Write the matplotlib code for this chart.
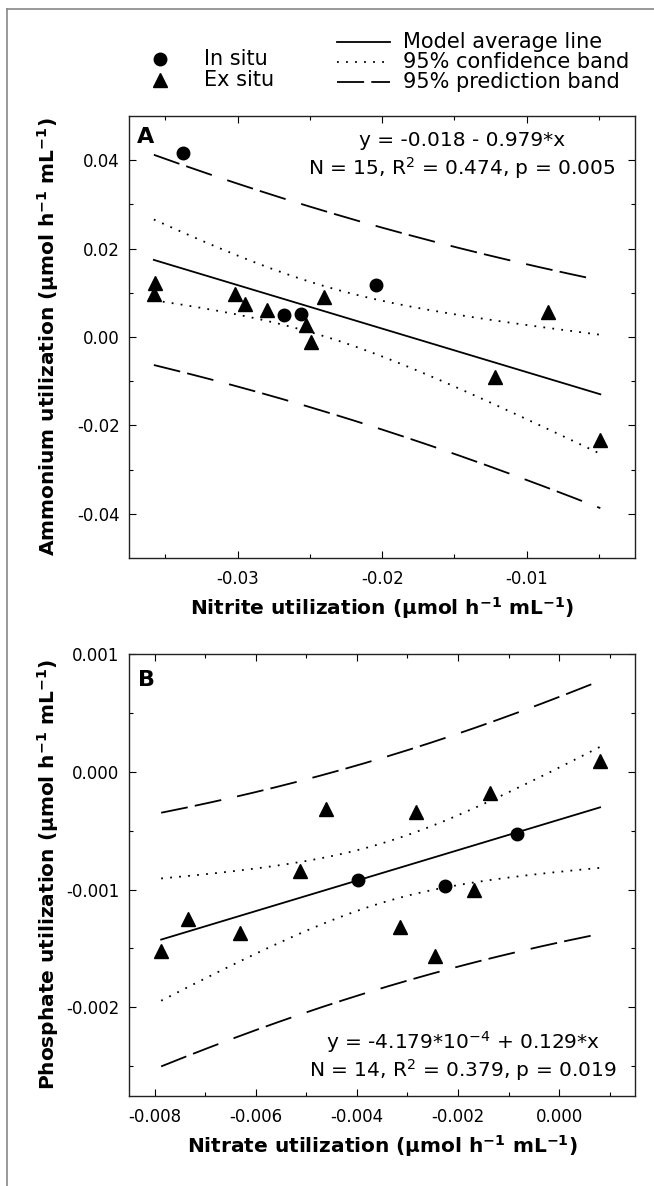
import matplotlib
matplotlib.use("Agg")
import matplotlib.pyplot as plt
import numpy as np
from matplotlib.lines import Line2D

plt.rcParams['font.family'] = ['DejaVu Sans']
plt.rcParams['mathtext.default'] = 'regular'
plt.rcParams['axes.unicode_minus'] = False

# panel A: nitrite vs ammonium utilization
nitrite_insitu = [-0.0338, -0.0204, -0.0268, -0.0256]
ammonium_insitu = [0.0416, 0.0117, 0.0049, 0.0053]
nitrite_exsitu = [-0.0357, -0.0358, -0.0302, -0.0295, -0.0280, -0.0240,
                  -0.0253, -0.0249, -0.0085, -0.0122, -0.0049]
ammonium_exsitu = [0.0123, 0.0098, 0.0098, 0.0074, 0.0061, 0.0091,
                   0.0028, -0.0011, 0.0057, -0.0091, -0.0233]

# panel B: nitrate vs phosphate utilization
nitrate_insitu = [-0.00398, -0.00083, -0.00225]
phosphate_insitu = [-0.000915, -0.000531, -0.000969]
nitrate_exsitu = [0.00081, -0.00137, -0.00461, -0.00284, -0.00513, -0.00169,
                  -0.00734, -0.00631, -0.00787, -0.00315, -0.00246]
phosphate_exsitu = [0.00009, -0.000182, -0.000313, -0.000341, -0.000841, -0.001006,
                    -0.001253, -0.001366, -0.001523, -0.001318, -0.001565]

eq_a = ["y = -0.018 - 0.979*x", "N = 15, R$^2$ = 0.474, p = 0.005"]
eq_b = ["y = -4.179*10$^{-4}$ + 0.129*x", "N = 14, R$^2$ = 0.379, p = 0.019"]

# two sided t(0.975) for n-2 degrees of freedom
t_a = 2.1604
t_b = 2.1788

W, H = 654, 1186
fig = plt.figure(figsize=(W / 100, H / 100), dpi=100)


def rect(left, top, right, bottom):
    return [left / W, 1 - bottom / H, (right - left) / W, (bottom - top) / H]


def fit_bands(x, y, t):
    x = np.asarray(x)
    y = np.asarray(y)
    slope, intercept = np.polyfit(x, y, 1)
    n = len(x)
    xm = x.mean()
    sxx = ((x - xm) ** 2).sum()
    s = np.sqrt(((y - intercept - slope * x) ** 2).sum() / (n - 2))
    xs = np.linspace(x.min(), x.max(), 200)
    yh = intercept + slope * xs
    ci = t * s * np.sqrt(1 / n + (xs - xm) ** 2 / sxx)
    pi = t * s * np.sqrt(1 + 1 / n + (xs - xm) ** 2 / sxx)
    return xs, yh, ci, pi


def draw_panel(ax, xi, yi, xe, ye, t):
    x = list(xi) + list(xe)
    y = list(yi) + list(ye)
    xs, yh, ci, pi = fit_bands(x, y, t)
    ax.plot(xs, yh, color='k', lw=1.3)
    ax.plot(xs, yh + ci, color='k', lw=1.3, ls=(0, (1, 4)))
    ax.plot(xs, yh - ci, color='k', lw=1.3, ls=(0, (1, 4)))
    ax.plot(xs, yh + pi, color='k', lw=1.3, ls=(0, (15, 4, 15, 9)))
    ax.plot(xs, yh - pi, color='k', lw=1.3, ls=(0, (15, 4, 15, 9)))
    ax.plot(xi, yi, 'o', color='k', ms=9, zorder=3)
    ax.plot(xe, ye, '^', color='k', ms=10, zorder=3)
    for sp in ax.spines.values():
        sp.set_linewidth(1.0)
        sp.set_color('#222222')
    ax.tick_params(which='both', direction='in', top=True, right=True,
                   labelsize=12, width=0.8)
    ax.tick_params(which='major', length=5)
    ax.tick_params(which='minor', length=3)
    ax.tick_params(axis='x', pad=9)
    ax.tick_params(axis='y', pad=7)


axA = fig.add_axes(rect(129.3, 116, 635, 558))
draw_panel(axA, nitrite_insitu, ammonium_insitu, nitrite_exsitu, ammonium_exsitu, t_a)
axA.set_xlim(-0.0375, -0.0025)
axA.set_ylim(-0.05, 0.05)
axA.set_xticks([-0.03, -0.02, -0.01])
axA.set_xticklabels(['-0.03', '-0.02', '-0.01'])
axA.set_xticks([-0.035, -0.025, -0.015, -0.005], minor=True)
axA.set_yticks([-0.04, -0.02, 0.0, 0.02, 0.04])
axA.set_yticklabels(['-0.04', '-0.02', '0.00', '0.02', '0.04'])
axA.set_yticks([-0.03, -0.01, 0.01, 0.03], minor=True)
axA.set_xlabel('Nitrite utilization (µmol h$^{-1}$ mL$^{-1}$)', fontsize=14.5, fontweight='bold')
axA.set_ylabel('Ammonium utilization (µmol h$^{-1}$ mL$^{-1}$)', fontsize=14.5, fontweight='bold')
axA.xaxis.set_label_coords(0.5, -0.085)
axA.yaxis.set_label_coords(-0.135, 0.5)
axA.text(0.015, 0.975, 'A', transform=axA.transAxes, fontsize=16, fontweight='bold', va='top')
axA.text(0.658, 0.9457, eq_a[0], transform=axA.transAxes, fontsize=14.5, ha='center', va='center')
axA.text(0.658, 0.8824, eq_a[1], transform=axA.transAxes, fontsize=14.5, ha='center', va='center')

axB = fig.add_axes(rect(129.3, 654, 635, 1095.7))
draw_panel(axB, nitrate_insitu, phosphate_insitu, nitrate_exsitu, phosphate_exsitu, t_b)
axB.set_xlim(-0.0085, 0.0015)
axB.set_ylim(-0.00275, 0.001)
axB.set_xticks([-0.008, -0.006, -0.004, -0.002, 0.0])
axB.set_xticklabels(['-0.008', '-0.006', '-0.004', '-0.002', '0.000'])
axB.set_xticks([-0.007, -0.005, -0.003, -0.001, 0.001], minor=True)
axB.set_yticks([-0.002, -0.001, 0.0, 0.001])
axB.set_yticklabels(['-0.002', '-0.001', '0.000', '0.001'])
axB.set_yticks([-0.0025, -0.0015, -0.0005, 0.0005], minor=True)
axB.set_xlabel('Nitrate utilization (µmol h$^{-1}$ mL$^{-1}$)', fontsize=14.5, fontweight='bold')
axB.set_ylabel('Phosphate utilization (µmol h$^{-1}$ mL$^{-1}$)', fontsize=14.5, fontweight='bold')
axB.xaxis.set_label_coords(0.5, -0.085)
axB.yaxis.set_label_coords(-0.135, 0.5)
axB.text(0.018, 0.964, 'B', transform=axB.transAxes, fontsize=16, fontweight='bold', va='top')
axB.text(0.66, 0.1216, eq_b[0], transform=axB.transAxes, fontsize=14.5, ha='center', va='center')
axB.text(0.66, 0.0582, eq_b[1], transform=axB.transAxes, fontsize=14.5, ha='center', va='center')

# legend at the top, placed in figure pixels
def fx(px):
    return px / W


def fy(py):
    return 1 - py / H


tf = fig.transFigure
fig.add_artist(Line2D([fx(160)], [fy(59)], marker='o', color='k', ms=9, transform=tf))
fig.add_artist(Line2D([fx(160)], [fy(80)], marker='^', color='k', ms=10, transform=tf))
fig.text(fx(204), fy(59), 'In situ', fontsize=15, va='center')
fig.text(fx(204), fy(80), 'Ex situ', fontsize=15, va='center')

styles = ['-', (0, (1, 4)), (0, (15, 4, 15, 9))]
names = ['Model average line', '95% confidence band', '95% prediction band']
rows = [41.7, 61.7, 82]
for st, nm, r in zip(styles, names, rows):
    fig.add_artist(Line2D([fx(337), fx(390)], [fy(r), fy(r)], color='k', lw=1.3, ls=st, transform=tf))
    fig.text(fx(403), fy(r), nm, fontsize=15, va='center')

# gray frame lines of the original panel
fig.add_artist(Line2D([fx(7), fx(7)], [0, fy(9)], color='#888888', lw=1.2, transform=tf))
fig.add_artist(Line2D([fx(7), 1], [fy(9), fy(9)], color='#888888', lw=1.2, transform=tf))

fig.savefig('out.png', dpi=100)
